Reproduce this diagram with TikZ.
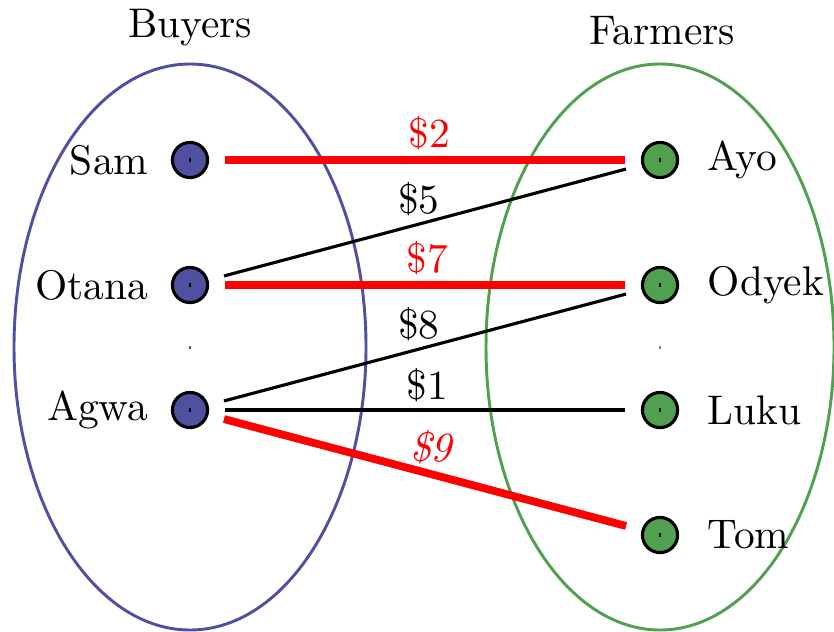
\documentclass[tikz,border=0pt]{standalone}
\usepackage{xcolor}
\usepackage{tikz}

\definecolor{buyerblue}{RGB}{80,80,160}
\definecolor{farmergreen}{RGB}{80,160,80}

\begin{document}
\begin{tikzpicture}[x=0.256pt, y=-0.256pt,
    every node/.style={font=\fontsize{10.6}{13}\selectfont},
    buyer/.style={circle, draw=black, thick, fill=buyerblue, minimum size=9pt, inner sep=0pt, outer sep=4.5pt},
    farmer/.style={circle, draw=black, thick, fill=farmergreen, minimum size=9pt, inner sep=0pt, outer sep=4.5pt},
    deal/.style={red, line width=2pt},
    offer/.style={black, thick},
    price/.style={above, inner sep=1.6pt}]

    \useasboundingbox (0,0) rectangle (834,631);

    % Groups
    \draw[buyerblue, line width=0.75pt]   (190,347) ellipse [x radius=176, y radius=283];
    \draw[farmergreen, line width=0.75pt] (660,347) ellipse [x radius=174, y radius=283];
    \draw[buyerblue, line width=0.4pt]   (190,346) -- (190,349);
    \draw[farmergreen, line width=0.4pt] (660,346) -- (660,349);

    \node (buyers)  at (190,28) {Buyers};
    \node (farmers) at (662,31) {Farmers};

    % Buyers
    \node[buyer] (sam)   at (190,160) {\rule{0.3pt}{0.9pt}};
    \node[buyer] (otana) at (190,285) {\rule{0.3pt}{0.9pt}};
    \node[buyer] (agwa)  at (190,410) {\rule{0.3pt}{0.9pt}};
    \node[anchor=east] (samname)   at (162,160) {Sam};
    \node[anchor=east] (otananame) at (162,285) {Otana};
    \node[anchor=east] (agwaname)  at (162,410) {Agwa};

    % Farmers
    \node[farmer] (ayo)   at (660,160) {\rule{0.3pt}{0.9pt}};
    \node[farmer] (odyek) at (660,285) {\rule{0.3pt}{0.9pt}};
    \node[farmer] (luku)  at (660,410) {\rule{0.3pt}{0.9pt}};
    \node[farmer] (tom)   at (660,535) {\rule{0.3pt}{0.9pt}};
    \node[anchor=west] (ayoname)   at (694,160) {Ayo};
    \node[anchor=west] (odyekname) at (694,285) {Odyek};
    \node[anchor=west] (lukuname)  at (694,410) {Luku};
    \node[anchor=west] (tomname)   at (694,535) {Tom};

    % Offers and deals
    \draw[deal]  (sam)   -- node[price, pos=0.51, red] {\$2} (ayo);
    \draw[offer] (otana) -- node[price, pos=0.485] {\$5} (ayo);
    \draw[deal]  (otana) -- node[price, pos=0.505, red] {\$7} (odyek);
    \draw[offer] (agwa)  -- node[price, pos=0.485] {\$8} (odyek);
    \draw[offer] (agwa)  -- node[price, pos=0.505] {\$1} (luku);
    \draw[deal]  (agwa)  -- node[price, pos=0.515, red, font=\fontsize{10.6}{13}\selectfont\itshape] {\$9} (tom);

\end{tikzpicture}
\end{document}
